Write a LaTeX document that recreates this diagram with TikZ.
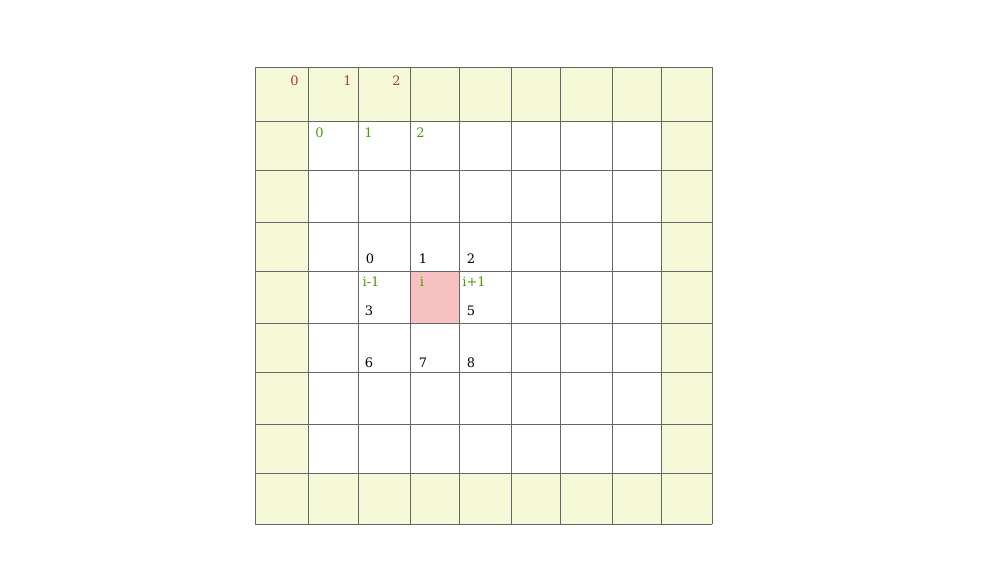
\documentclass[tikz,border=0pt]{standalone}
\usepackage{fontspec}
\setmainfont{DejaVu Serif}
\definecolor{padfill}{HTML}{F5F9D8}
\definecolor{cellline}{HTML}{666666}
\definecolor{redtxt}{HTML}{A83A3A}
\definecolor{greentxt}{HTML}{4E9A06}
\definecolor{pinkfill}{HTML}{F8C1C1}
\tikzset{
  lbl/.style={inner sep=0pt, font=\fontsize{13}{13}\selectfont},
  redlbl/.style={lbl, text=redtxt},
  greenlbl/.style={lbl, text=greentxt},
  blacklbl/.style={lbl, text=black},
  gridline/.style={draw=cellline, line width=0.9pt}
}
\begin{document}
\begin{tikzpicture}[x=1pt,y=-1pt]
\useasboundingbox (0,0) rectangle (987,577);
\fill[white] (0,0) rectangle (987,577);
% padding cells
\fill[padfill] (255,67) rectangle (712,121);
\fill[padfill] (255,473) rectangle (712,524);
\fill[padfill] (255,67) rectangle (308,524);
\fill[padfill] (661,67) rectangle (712,524);
% highlighted cell
\fill[pinkfill] (410,271) rectangle (459,323);
% grid
\foreach \x in {255,308,358,410,459,511,560,612,661,712}
  \draw[gridline] (\x,67) -- (\x,524);
\foreach \y in {67,121,170,222,271,323,372,424,473,524}
  \draw[gridline] (255,\y) -- (712,\y);
% red labels
\node[redlbl] (r0) at (294.5,81) {0};
\node[redlbl] (r1) at (347.5,81) {1};
\node[redlbl] (r2) at (396.5,81) {2};
% green labels
\node[greenlbl] (g0) at (319.5,133) {0};
\node[greenlbl] (g1) at (368.5,133) {1};
\node[greenlbl] (g2) at (420.5,133) {2};
% neighbour indices
\node[blacklbl] (n0) at (370,259) {0};
\node[blacklbl] (n1) at (423,259) {1};
\node[blacklbl] (n2) at (471,259) {2};
\node[greenlbl] (im) at (371,282) {i-1};
\node[greenlbl] (ii) at (422,282) {i};
\node[greenlbl] (ip) at (474,282) {i+1};
\node[blacklbl] (n3) at (369,311) {3};
\node[blacklbl] (n5) at (471,311) {5};
\node[blacklbl] (n6) at (369,363) {6};
\node[blacklbl] (n7) at (423,363) {7};
\node[blacklbl] (n8) at (471,363) {8};
\end{tikzpicture}
\end{document}
